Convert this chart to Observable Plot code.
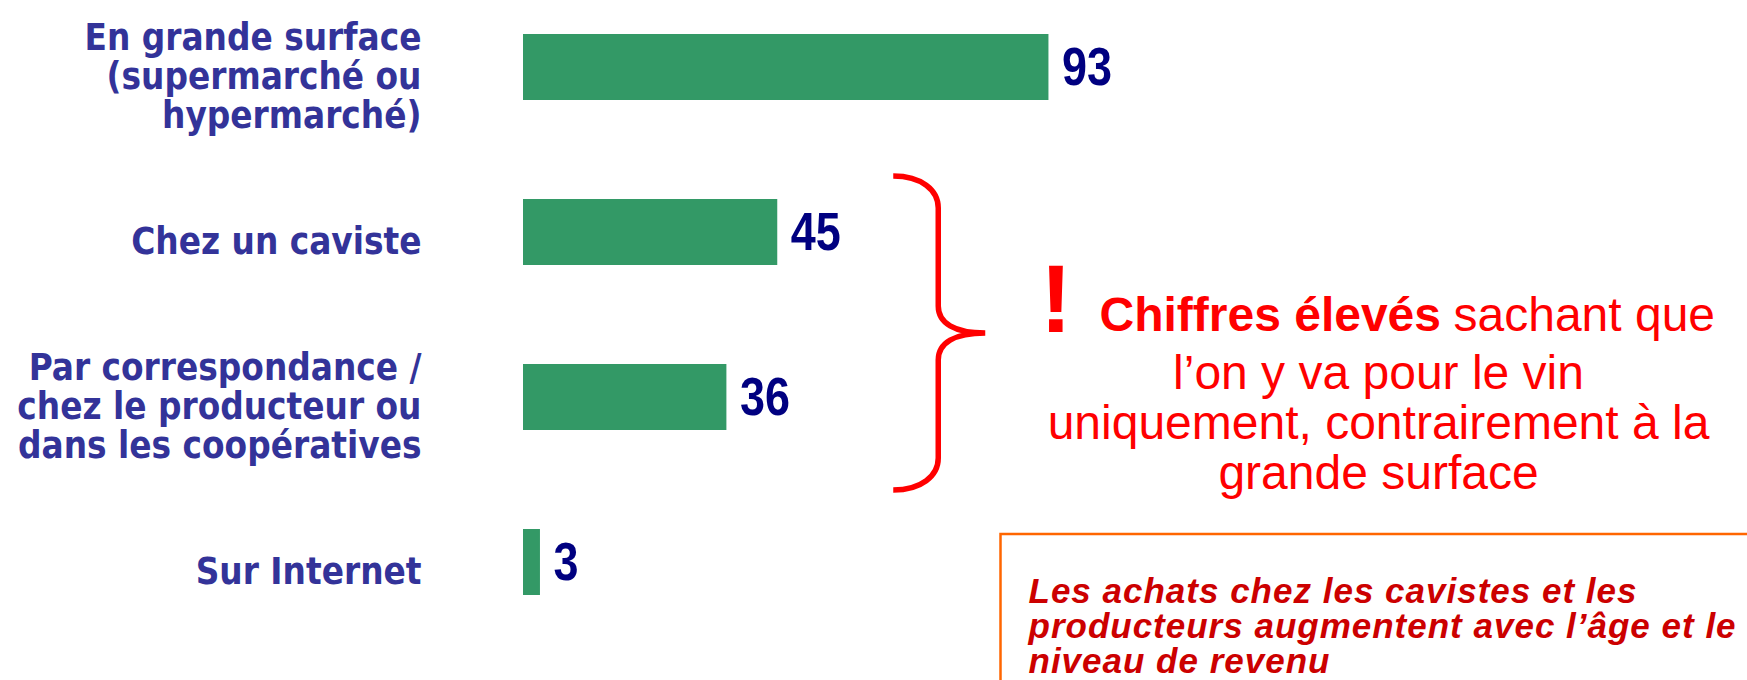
<!DOCTYPE html>
<html>
<head>
<meta charset="utf-8">
<script src="https://cdn.jsdelivr.net/npm/d3@7"></script>
<script src="https://cdn.jsdelivr.net/npm/@observablehq/plot@0.6"></script>
<style>
  html, body { margin: 0; padding: 0; background: #ffffff; }
  #chart svg { display: block; }
</style>
</head>
<body>
<div id="chart"></div>
<script>
// ---- data ----
const categories = [
  "En grande surface\n(supermarché ou\nhypermarché)",
  "Chez un caviste",
  "Par correspondance /\nchez le producteur ou\ndans les coopératives",
  "Sur Internet"
];
const values = [93, 45, 36, 3];
const noteMain = ["Chiffres élevés"];
const noteRest = ["sachant que"];
const noteLines = ["l’on y va pour le vin\nuniquement, contrairement à la\ngrande surface"];
const boxLines = ["Les achats chez les cavistes et les\nproducteurs augmentent avec l’âge et le\nniveau de revenu"];

const data = categories.map((c, i) => ({category: c, value: values[i]}));

const W = 1747, H = 680, ML = 523, MR = 659, MT = 0, MB = 52;

// brace + box annotation drawn with the scales
function braceMark(index, scales) {
  const y = scales.y, x = scales.x;
  const bw = typeof y.bandwidth === "function" ? y.bandwidth() : y.bandwidth;
  const top = y(categories[1]) - 23;
  const bottom = y(categories[2]) + bw + 60;
  const tipY = 333;
  const xl = x(values[1]) + 116;
  const xv = xl + 45;
  const xt = xv + 47;
  const p = d3.path();
  p.moveTo(xl, top);
  p.bezierCurveTo(xl + 28, top, xv, top + 14, xv, top + 32);
  p.lineTo(xv, tipY - 27);
  p.bezierCurveTo(xv, tipY - 10, xv + 16, tipY, xt, tipY);
  p.bezierCurveTo(xv + 16, tipY, xv, tipY + 10, xv, tipY + 27);
  p.lineTo(xv, bottom - 32);
  p.bezierCurveTo(xv, bottom - 14, xl + 28, bottom, xl, bottom);
  const g = d3.create("svg:g");
  g.append("path").attr("d", p.toString())
    .attr("fill", "none").attr("stroke", "#ff0000").attr("stroke-width", 5.5);
  g.append("rect").attr("x", 1000.5).attr("y", 534).attr("width", 800).attr("height", 300)
    .attr("fill", "none").attr("stroke", "#ff6600").attr("stroke-width", 2.5);
  return g.node();
}

const chart = Plot.plot({
  width: W,
  height: H,
  marginLeft: ML,
  marginRight: MR,
  marginTop: MT,
  marginBottom: MB,
  style: {background: "#ffffff"},
  x: {domain: [0, 100], axis: null},
  y: {domain: categories, paddingInner: 0.6, paddingOuter: 0.2, axis: null},
  marks: [
    Plot.barX(data, {x: "value", y: "category", fill: "#339966"}),
    Plot.text(data, {
      x: "value", y: "category", text: d => String(d.value),
      textAnchor: "start", dx: 13, dy: 1,
      fontSize: 53, fontWeight: "bold", fill: "#000080",
      fontFamily: "'Liberation Sans', Arial, sans-serif"
    }),
    Plot.text(categories, {
      y: d => d, text: d => d, frameAnchor: "left", textAnchor: "end",
      dx: -(ML - 421), dy: 9, lineHeight: 1.07,
      fontSize: 36.5, fontWeight: "bold", fill: "#333399",
      fontFamily: "'DejaVu Sans Condensed', 'DejaVu Sans', sans-serif"
    }),
    braceMark,
    Plot.text(["!"], {
      text: d => d, frameAnchor: "top-left", textAnchor: "start", lineAnchor: "bottom",
      dx: 1039.5 - ML, dy: 331 - MT, fontSize: 96, fontWeight: "bold", fill: "#ff0000",
      fontFamily: "'Liberation Sans', Arial, sans-serif"
    }),
    Plot.text(noteMain, {
      text: d => d, frameAnchor: "top-left", textAnchor: "start", lineAnchor: "bottom",
      dx: 1099 - ML, dy: 330 - MT, fontSize: 48, fontWeight: "bold", fill: "#ff0000",
      fontFamily: "'Liberation Sans', Arial, sans-serif"
    }),
    Plot.text(noteRest, {
      text: d => d, frameAnchor: "top-left", textAnchor: "start", lineAnchor: "bottom",
      dx: 1453 - ML, dy: 330 - MT, fontSize: 48, fill: "#ff0000",
      fontFamily: "'Liberation Sans', Arial, sans-serif"
    }),
    Plot.text(noteLines, {
      text: d => d, frameAnchor: "top-left", textAnchor: "middle", lineAnchor: "bottom",
      dx: 1378 - ML, dy: 488 - MT, fontSize: 48, lineHeight: 50 / 48, fill: "#ff0000",
      fontFamily: "'Liberation Sans', Arial, sans-serif"
    }),
    Plot.text(boxLines, {
      text: d => d, frameAnchor: "top-left", textAnchor: "start", lineAnchor: "bottom",
      dx: 1028 - ML, dy: 672 - MT, fontSize: 35, lineHeight: 1.0,
      fontWeight: "bold", fontStyle: "italic", fill: "#cc0000",
      fontFamily: "'Liberation Sans', Arial, sans-serif"
    })
  ]
});

const valueStrings = new Set(values.map(String));
chart.querySelectorAll("text").forEach(t => {
  const s = t.textContent;
  if (s.includes("achats")) t.style.letterSpacing = "1px";
  if (!s.includes("achats") && categories.some(c => c.replace(/\n/g, "") === s)) t.style.fontStretch = "condensed";
  if (valueStrings.has(s.trim()) && t.children.length === 0) {
    // condensed bold digits, as in the reference
    t.setAttribute("textLength", 25 * s.trim().length);
    t.setAttribute("lengthAdjust", "spacingAndGlyphs");
  }
});

document.getElementById("chart").appendChild(chart);
</script>
</body>
</html>
